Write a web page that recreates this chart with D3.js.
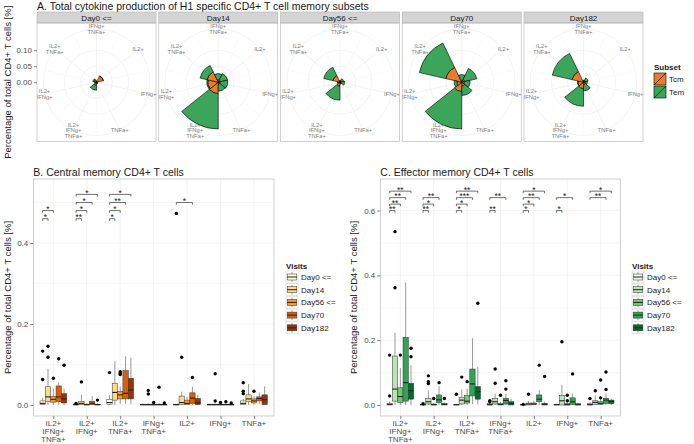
<!DOCTYPE html>
<html><head><meta charset="utf-8">
<script src="https://cdn.jsdelivr.net/npm/d3@7"></script>
<style>body{margin:0;background:#fff} svg{display:block} text{font-family:"Liberation Sans",Arial,Helvetica,sans-serif}</style>
</head><body><svg id="c" width="694" height="444"></svg>
<script>
// ---------------- DATA ----------------
const days = ["Day0 <=", "Day14", "Day56 <=", "Day70", "Day182"];
const subsets = ["Tcm", "Tem"];
const polarCats = ["IFNg+\nTNFa+", "IL2+", "IFNg+", "TNFa+", "IL2+\nIFNg+\nTNFa+", "IL2+\nIFNg+", "IL2+\nTNFa+"];
// per day, values in polarCats order
const polarTcm = [
  [0.003, 0.022, 0.002, 0.004, 0.010, 0.004, 0.008],
  [0.008, 0.006, 0.005, 0.006, 0.035, 0.033, 0.036],
  [0.003, 0.004, 0.003, 0.004, 0.012, 0.006, 0.023],
  [0.006, 0.010, 0.008, 0.012, 0.029, 0.015, 0.051],
  [0.004, 0.006, 0.005, 0.008, 0.020, 0.018, 0.037]
];
const polarTem = [
  [0.001, 0.000, 0.001, 0.001, 0.015, 0.002, 0.004],
  [0.019, 0.024, 0.025, 0.022, 0.111, 0.003, 0.022],
  [0.003, 0.008, 0.012, 0.002, 0.044, 0.002, 0.029],
  [0.018, 0.038, 0.018, 0.029, 0.117, 0.009, 0.085],
  [0.002, 0.009, 0.007, 0.019, 0.055, 0.000, 0.063]
];
const polarTicks = [0.00, 0.05, 0.10];

const boxCats = ["IL2+\nIFNg+\nTNFa+", "IL2+\nIFNg+", "IL2+\nTNFa+", "IFNg+\nTNFa+", "IL2+", "IFNg+", "TNFa+"];
// [lower whisker, q1, median, q3, upper whisker] per category, per visit
const tcmStats = [
  [[0,0.001,0.004,0.010,0.018],[0,0.008,0.020,0.045,0.089],[0,0.007,0.014,0.021,0.040],[0,0.008,0.020,0.047,0.055],[0,0.005,0.015,0.028,0.040]],
  [[0,0,0.001,0.002,0.003],[0,0.001,0.004,0.009,0.025],[0,0,0.001,0.002,0.004],[0,0.001,0.004,0.009,0.022],[0,0,0.001,0.002,0.004]],
  [[0,0.002,0.006,0.014,0.025],[0,0.012,0.031,0.053,0.108],[0.003,0.015,0.025,0.034,0.045],[0.003,0.015,0.029,0.085,0.120],[0.002,0.015,0.037,0.066,0.117]],
  [[0,0,0.001,0.002,0.003],[0,0,0.001,0.002,0.004],[0,0,0.001,0.002,0.004],[0,0,0.001,0.002,0.004],[0,0,0.001,0.002,0.003]],
  [[0,0,0.001,0.002,0.003],[0,0.001,0.006,0.022,0.033],[0,0.001,0.004,0.012,0.020],[0,0.004,0.017,0.030,0.045],[0,0.001,0.005,0.016,0.025]],
  [[0,0,0.001,0.002,0.003],[0,0,0.001,0.002,0.003],[0,0,0.001,0.002,0.003],[0,0,0.001,0.002,0.003],[0,0,0.001,0.002,0.003]],
  [[0,0.001,0.004,0.010,0.015],[0,0.008,0.015,0.025,0.052],[0.001,0.005,0.010,0.015,0.022],[0.002,0.010,0.016,0.020,0.030],[0,0.001,0.013,0.025,0.046]]
];
const tcmOutliers = [
  [[0.133,0.063],[0.145,0.118],[0.066],[0.114],[0.098]],
  [[0.004],[0.057],[],[],[0.012]],
  [[0.080],[],[0.082,0.078,0.075],[],[]],
  [[],[0.036,0.027],[0.006],[0.044],[0.005]],
  [[0.473],[0.118],[],[0.068],[]],
  [[],[0.077,0.010],[0.006],[0.008],[0.005]],
  [[0.055,0.034,0.028],[],[0.034],[],[]]
];
const temStats = [
  [[0,0,0.002,0.005,0.010],[0,0.012,0.049,0.151,0.223],[0,0.007,0.026,0.053,0.114],[0,0.012,0.069,0.209,0.378],[0,0.018,0.044,0.067,0.123]],
  [[0,0,0.001,0.002,0.003],[0,0.003,0.010,0.020,0.045],[0,0,0.001,0.003,0.006],[0,0.007,0.016,0.031,0.058],[0,0,0.002,0.004,0.008]],
  [[0,0,0.001,0.002,0.003],[0,0.003,0.015,0.024,0.048],[0,0.006,0.012,0.029,0.050],[0.003,0.028,0.065,0.111,0.206],[0.002,0.018,0.041,0.057,0.118]],
  [[0,0,0.001,0.004,0.006],[0,0.003,0.010,0.020,0.035],[0,0,0.002,0.005,0.010],[0,0.003,0.014,0.021,0.035],[0,0,0.005,0.010,0.020]],
  [[0,0,0.001,0.002,0.003],[0,0,0.003,0.006,0.012],[0,0.001,0.003,0.006,0.012],[0,0.010,0.018,0.031,0.046],[0,0,0.002,0.005,0.010]],
  [[0,0,0.001,0.002,0.003],[0,0,0.013,0.030,0.062],[0,0,0.001,0.005,0.010],[0,0.002,0.010,0.022,0.035],[0,0,0.001,0.004,0.006]],
  [[0,0,0.001,0.004,0.008],[0,0.002,0.008,0.013,0.030],[0,0.002,0.005,0.010,0.018],[0,0.005,0.015,0.021,0.035],[0,0.004,0.011,0.015,0.020]]
];
const temOutliers = [
  [[0.154,0.028],[0.362,0.535],[0.154],[],[0.175,0.149]],
  [[0.004],[0.090,0.072,0.066],[0.020],[0.069],[0.020]],
  [[0.033],[0.086],[0.072],[],[0.314]],
  [[0.013,0.010],[0.111,0.067],[0.030],[0.075,0.049],[]],
  [[0.002],[0.033],[],[0.123],[0.088]],
  [[],[0.195],[0.030,0.013],[0.096],[]],
  [[0.020],[0.044],[0.077,0.022],[0.102,0.048],[]]
];
// significance: [category index, compared visit index (vs Day0), label]
const tcmSig = [[0,1,"*"],[0,2,"*"],[1,1,"**"],[1,2,"*"],[1,3,"*"],[1,4,"*"],[2,1,"*"],[2,2,"*"],[2,3,"**"],[2,4,"*"],[4,3,"*"]];
const temSig = [[0,1,"**"],[0,2,"**"],[0,3,"**"],[0,4,"**"],[1,1,"**"],[1,2,"*"],[1,3,"**"],
  [2,1,"*"],[2,2,"*"],[2,3,"***"],[2,4,"**"],[3,1,"**"],[3,3,"**"],[4,1,"*"],[4,2,"*"],[4,3,"**"],[4,4,"*"],
  [5,1,"*"],[5,3,"*"],[6,3,"**"],[6,4,"*"]];
const tcmSigLevels = [null, 0.46, 0.48, 0.50, 0.52];
const temSigLevels = [null, 0.60, 0.62, 0.64, 0.66];
const tcmTicks = [0.0, 0.2, 0.4];
const temTicks = [0.0, 0.2, 0.4, 0.6];
const minorTicks = [0.1, 0.3, 0.5];

const subsetColors = ["#EC7A2B", "#3BA55A"];
const orangeVisits = ["#FFFFD4", "#FED98E", "#FE9929", "#D95F0E", "#993404"];
const greenVisits = ["#EDF8E9", "#BAE4B3", "#74C476", "#31A354", "#006D2C"];

// ---------------- DRAW ----------------
const svg = d3.select("#c");
const TXT = "#1a1a1a", AX = "#4d4d4d", GRID = "#ebebeb", BORDER = "#b3b3b3";

svg.append("text").attr("x", 37).attr("y", 9.5).attr("font-size", 10.5).attr("fill", TXT)
  .text("A. Total cytokine production of H1 specific CD4+ T cell memory subsets");

// polar facets
const facet = d3.scaleBand().domain(days).range([37, 643]).paddingInner(0.0226);
const pTop = 23, pH = 118.5, stripTop = 12;
const pw = facet.bandwidth();
const cy = pTop + pH / 2;
const rMax = 0.4 * Math.min(pw, pH);
const rScale = d3.scaleLinear().domain([0, 0.148]).range([0, rMax]);
const theta = d3.scaleBand().domain(polarCats).range([-Math.PI / 7, 2 * Math.PI - Math.PI / 7]);
const tb = theta.bandwidth();
const labR = 0.45 * Math.min(pw, pH);
const stack = d3.stack().keys(subsets);
const arc = d3.arc();

days.forEach((d, i) => {
  const x0 = facet(d), cx = x0 + pw / 2;
  svg.append("rect").attr("x", x0).attr("y", stripTop).attr("width", pw).attr("height", pTop - stripTop)
    .attr("fill", "#d4d4d4").attr("stroke", BORDER).attr("stroke-width", 0.6);
  svg.append("text").attr("x", cx).attr("y", stripTop + 8.6).attr("text-anchor", "middle")
    .attr("font-size", 8).attr("fill", TXT).text(d);
  const g = svg.append("g").attr("transform", `translate(${cx},${cy})`);
  [rScale(0.05), rScale(0.10), labR].forEach(r => g.append("circle").attr("r", r)
    .attr("fill", "none").attr("stroke", GRID).attr("stroke-width", 0.6));
  polarCats.forEach(c => {
    [theta(c) + tb / 2, theta(c)].forEach((a, k) => g.append("line")
      .attr("x1", 0).attr("y1", 0).attr("x2", labR * Math.sin(a)).attr("y2", -labR * Math.cos(a))
      .attr("stroke", k === 0 ? GRID : "#f6f6f6").attr("stroke-width", 0.6));
  });
  const rows = polarCats.map((c, j) => ({ cat: c, Tcm: polarTcm[i][j], Tem: polarTem[i][j] }));
  const series = stack(rows);
  series.forEach((s, k) => {
    g.selectAll(null).data(s).enter().append("path")
      .attr("d", p => arc({ innerRadius: rScale(p[0]), outerRadius: rScale(p[1]),
        startAngle: theta(p.data.cat), endAngle: theta(p.data.cat) + tb }))
      .attr("fill", subsetColors[k]).attr("stroke", "#000").attr("stroke-width", 0.6);
  });
  polarCats.forEach(c => {
    const a = theta(c) + tb / 2;
    const lx = labR * Math.sin(a), ly = -labR * Math.cos(a);
    const lines = c.split("\n");
    const lh = 5.4;
    const t = g.append("text").attr("text-anchor", "middle").attr("font-size", 5.8).attr("fill", "#7f7f7f");
    lines.forEach((l, k) => t.append("tspan").attr("x", lx)
      .attr("y", ly + (k - (lines.length - 1) / 2) * lh + 2).text(l));
  });
  svg.append("rect").attr("x", x0).attr("y", pTop).attr("width", pw).attr("height", pH)
    .attr("fill", "none").attr("stroke", BORDER).attr("stroke-width", 0.6);
});
const yPolar = d3.scaleLinear().domain([0, 0.148]).range([cy, cy - rMax]);
const pax = svg.append("g").attr("transform", `translate(${facet(days[0])},0)`)
  .call(d3.axisLeft(yPolar).tickValues(polarTicks).tickFormat(d3.format(".2f")).tickSize(3).tickPadding(2));
pax.select(".domain").remove();
pax.selectAll("line").attr("stroke", "#7f7f7f");
pax.selectAll("text").attr("font-size", 8).attr("fill", AX).attr("font-family", "Liberation Sans, Arial, sans-serif");
svg.append("text").attr("transform", `translate(10.5,${cy}) rotate(-90)`).attr("text-anchor", "middle")
  .attr("font-size", 9.5).attr("fill", TXT).text("Percentage of total CD4+ T cells [%]");
const sl = svg.append("g").attr("transform", "translate(654,0)");
sl.append("text").attr("x", 0).attr("y", 70).attr("font-size", 8).attr("font-weight", "bold").attr("fill", TXT).text("Subset");
subsets.forEach((s, k) => {
  const y = 73 + k * 13;
  sl.append("rect").attr("x", 0).attr("y", y).attr("width", 12).attr("height", 12)
    .attr("fill", subsetColors[k]).attr("stroke", "#000").attr("stroke-width", 0.6);
  sl.append("line").attr("x1", 0).attr("y1", y + 12).attr("x2", 12).attr("y2", y).attr("stroke", "#000").attr("stroke-width", 0.6);
  sl.append("text").attr("x", 15).attr("y", y + 9).attr("font-size", 8).attr("fill", TXT).text(s);
});

function boxPanel(o) {
  const x = d3.scaleBand().domain(boxCats).range([o.left, o.right]).paddingInner(0).paddingOuter(0.1);
  const step = x.step();
  const dodge = d3.scaleBand().domain(days).range([-0.4 * step, 0.4 * step]);
  const bw = dodge.bandwidth();
  const y = d3.scaleLinear().domain(o.yDomain).range([o.bottom, o.top]);
  svg.append("text").attr("x", o.left).attr("y", o.top - 3.5).attr("font-size", 10.5).attr("fill", TXT).text(o.title);
  svg.append("rect").attr("x", o.left).attr("y", o.top).attr("width", o.right - o.left).attr("height", o.bottom - o.top).attr("fill", "#fff");
  minorTicks.filter(v => v < o.yDomain[1]).forEach(v => svg.append("line").attr("x1", o.left).attr("x2", o.right)
    .attr("y1", y(v)).attr("y2", y(v)).attr("stroke", "#f5f5f5").attr("stroke-width", 0.8));
  o.ticks.forEach(v => svg.append("line").attr("x1", o.left).attr("x2", o.right)
    .attr("y1", y(v)).attr("y2", y(v)).attr("stroke", GRID).attr("stroke-width", 0.6));
  boxCats.forEach(c => svg.append("line").attr("x1", x(c) + step / 2).attr("x2", x(c) + step / 2)
    .attr("y1", o.top).attr("y2", o.bottom).attr("stroke", GRID).attr("stroke-width", 0.6));
  boxCats.forEach((c, ci) => {
    days.forEach((d, vi) => {
      const s = o.stats[ci][vi];
      const bx = x(c) + step / 2 + dodge(d), cxm = bx + bw / 2;
      svg.append("line").attr("x1", cxm).attr("x2", cxm).attr("y1", y(s[4])).attr("y2", y(s[3])).attr("stroke", "#333").attr("stroke-width", 0.5);
      svg.append("line").attr("x1", cxm).attr("x2", cxm).attr("y1", y(s[1])).attr("y2", y(s[0])).attr("stroke", "#333").attr("stroke-width", 0.5);
      svg.append("rect").attr("x", bx).attr("y", y(s[3])).attr("width", bw).attr("height", Math.max(0.5, y(s[1]) - y(s[3])))
        .attr("fill", o.colors[vi]).attr("stroke", "#333").attr("stroke-width", 0.5);
      svg.append("line").attr("x1", bx).attr("x2", bx + bw).attr("y1", y(s[2])).attr("y2", y(s[2])).attr("stroke", "#222").attr("stroke-width", 1.1);
      o.outliers[ci][vi].forEach(v => svg.append("circle").attr("cx", cxm).attr("cy", y(v)).attr("r", 1.7).attr("fill", "#000"));
    });
  });
  o.sig.forEach(([ci, vi, lab]) => {
    const c = boxCats[ci];
    const xa = x(c) + step / 2 + dodge(days[0]) + bw / 2;
    const xb = x(c) + step / 2 + dodge(days[vi]) + bw / 2;
    const yy = y(o.levels[vi]);
    svg.append("path").attr("d", `M${xa},${yy + 2.2}V${yy}H${xb}V${yy + 2.2}`).attr("fill", "none").attr("stroke", "#333").attr("stroke-width", 0.7);
    svg.append("text").attr("x", (xa + xb) / 2).attr("y", yy + 1.8).attr("text-anchor", "middle").attr("font-size", 8.5).attr("fill", TXT).text(lab);
  });
  svg.append("rect").attr("x", o.left).attr("y", o.top).attr("width", o.right - o.left).attr("height", o.bottom - o.top)
    .attr("fill", "none").attr("stroke", BORDER).attr("stroke-width", 0.6);
  const ya = svg.append("g").attr("transform", `translate(${o.left},0)`)
    .call(d3.axisLeft(y).tickValues(o.ticks).tickFormat(d3.format(".1f")).tickSize(3).tickPadding(2));
  ya.select(".domain").remove();
  ya.selectAll("line").attr("stroke", "#7f7f7f");
  ya.selectAll("text").attr("font-size", 8).attr("fill", AX).attr("font-family", "Liberation Sans, Arial, sans-serif");
  const xa = svg.append("g").attr("transform", `translate(0,${o.bottom})`)
    .call(d3.axisBottom(d3.scalePoint().domain(boxCats).range([x(boxCats[0]) + step / 2, x(boxCats[6]) + step / 2])).tickSize(3).tickFormat(""));
  xa.select(".domain").remove();
  xa.selectAll("line").attr("stroke", "#7f7f7f");
  boxCats.forEach(c => {
    const t = svg.append("text").attr("text-anchor", "middle").attr("font-size", 8).attr("fill", AX);
    c.split("\n").forEach((l, k) => t.append("tspan").attr("x", x(c) + step / 2).attr("y", o.bottom + 9.5 + k * 8).text(l));
  });
  svg.append("text").attr("transform", `translate(${o.ytitleX},${(o.top + o.bottom) / 2}) rotate(-90)`).attr("text-anchor", "middle")
    .attr("font-size", 9.5).attr("fill", TXT).text("Percentage of total CD4+ T cells [%]");
  const lg = svg.append("g").attr("transform", `translate(${o.legendX},0)`);
  lg.append("text").attr("x", 0).attr("y", 269).attr("font-size", 8).attr("font-weight", "bold").attr("fill", TXT).text("Visits");
  days.forEach((d, k) => {
    const ky = 271 + k * 12.7;
    lg.append("rect").attr("x", 0).attr("y", ky).attr("width", 12).attr("height", 12).attr("fill", "#fff").attr("stroke", "#cccccc").attr("stroke-width", 0.5);
    lg.append("line").attr("x1", 6).attr("x2", 6).attr("y1", ky + 1.2).attr("y2", ky + 10.8).attr("stroke", "#333").attr("stroke-width", 0.5);
    lg.append("rect").attr("x", 1.2).attr("y", ky + 3).attr("width", 9.6).attr("height", 6).attr("fill", o.colors[k]).attr("stroke", "#333").attr("stroke-width", 0.5);
    lg.append("line").attr("x1", 1.2).attr("x2", 10.8).attr("y1", ky + 6).attr("y2", ky + 6).attr("stroke", "#222").attr("stroke-width", 1);
    lg.append("text").attr("x", 15).attr("y", ky + 9).attr("font-size", 8).attr("fill", TXT).text(d);
  });
}

boxPanel({ left: 33.3, right: 274, top: 179, bottom: 416, yDomain: [-0.0272, 0.558], ticks: tcmTicks,
  stats: tcmStats, outliers: tcmOutliers, colors: orangeVisits, sig: tcmSig, levels: tcmSigLevels,
  title: "B. Central memory CD4+ T cells", ytitleX: 11, legendX: 286 });
boxPanel({ left: 380.3, right: 620.7, top: 179, bottom: 416, yDomain: [-0.034, 0.6975], ticks: temTicks,
  stats: temStats, outliers: temOutliers, colors: greenVisits, sig: temSig, levels: temSigLevels,
  title: "C. Effector memory CD4+ T cells", ytitleX: 357, legendX: 632 });
</script></body></html>
